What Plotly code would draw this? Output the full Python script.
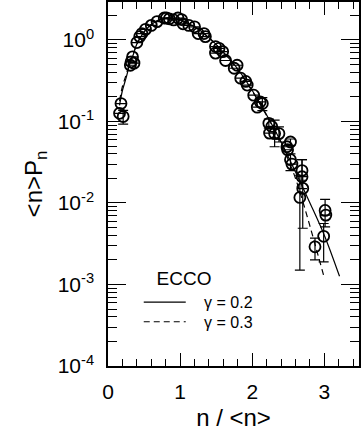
import plotly.graph_objects as go

# ---- data ----
pt_x = [0.16, 0.18, 0.21, 0.31, 0.32, 0.34, 0.36, 0.40, 0.44, 0.47, 0.52, 0.60, 0.68, 0.78,
        0.81, 0.85, 0.91, 0.97, 1.02, 1.04, 1.12, 1.20, 1.25, 1.33, 1.35, 1.49, 1.49, 1.54,
        1.59, 1.63, 1.75, 1.79, 1.84, 1.91, 1.93, 2.02, 2.07, 2.11, 2.14, 2.23, 2.24, 2.27,
        2.31, 2.37, 2.48, 2.49, 2.53, 2.53, 2.55, 2.66, 2.69, 2.69, 2.70, 2.87, 2.99, 3.01, 3.02]
pt_y = [0.126, 0.166, 0.115, 0.49, 0.54, 0.62, 0.52, 0.93, 1.10, 1.20, 1.35, 1.51, 1.68, 1.86,
        1.86, 1.82, 1.76, 1.86, 1.78, 1.58, 1.51, 1.45, 1.20, 1.20, 1.10, 0.83, 0.69, 0.79,
        0.72, 0.56, 0.45, 0.49, 0.34, 0.31, 0.28, 0.21, 0.15, 0.174, 0.166, 0.095, 0.072, 0.087,
        0.071, 0.071, 0.049, 0.045, 0.034, 0.056, 0.030, 0.0117, 0.025, 0.021, 0.0151, 0.0029, 0.0039, 0.0081, 0.0071]
err_plus = [0, 0, 0.022, 0, 0, 0, 0, 0, 0, 0, 0, 0, 0, 0,
            0, 0, 0, 0, 0, 0, 0, 0, 0, 0, 0, 0, 0, 0,
            0, 0, 0, 0, 0, 0, 0, 0, 0, 0, 0.03, 0.012, 0, 0,
            0.033, 0.015, 0, 0, 0.006, 0.005, 0, 0.0102, 0.009, 0.013, 0.006, 0.0008, 0.0017, 0.003, 0]
err_minus = [0, 0, 0.022, 0, 0, 0, 0, 0, 0, 0, 0, 0, 0, 0,
             0, 0, 0, 0, 0, 0, 0, 0, 0, 0, 0, 0, 0, 0,
             0, 0, 0, 0, 0, 0, 0, 0, 0, 0, 0.03, 0.012, 0, 0,
             0.022, 0.015, 0, 0, 0.009, 0.005, 0, 0.0102, 0.006, 0.006, 0.0102, 0.0009, 0.002, 0.003, 0]

solid_x = [0.16, 0.20, 0.25, 0.30, 0.35, 0.40, 0.50, 0.60, 0.70, 0.80, 0.90, 1.00, 1.20, 1.40,
           1.60, 1.80, 2.00, 2.20, 2.40, 2.60, 2.80, 3.00, 3.21]
solid_y = [0.158, 0.24, 0.34, 0.50, 0.66, 0.89, 1.26, 1.55, 1.74, 1.84, 1.84, 1.76, 1.45, 1.07,
           0.71, 0.44, 0.24, 0.12, 0.056, 0.024, 0.0100, 0.0040, 0.00126]

dash_x = [0.16, 0.20, 0.25, 0.30, 0.35, 0.40, 0.50, 0.60, 0.70, 0.80, 0.90, 1.00, 1.20, 1.40,
          1.60, 1.80, 2.00, 2.20, 2.40, 2.50, 2.60, 2.70, 2.80, 2.90, 3.00]
dash_y = [0.178, 0.27, 0.37, 0.52, 0.67, 0.89, 1.25, 1.55, 1.75, 1.86, 1.86, 1.77, 1.45, 1.06,
          0.70, 0.43, 0.235, 0.118, 0.055, 0.034, 0.020, 0.0105, 0.0052, 0.0025, 0.0012]

y_ticks = [1e-4, 1e-3, 1e-2, 1e-1, 1]
y_ticktext = ["10<sup>-4</sup>", "10<sup>-3</sup>", "10<sup>-2</sup>", "10<sup>-1</sup>", "10<sup>0</sup>"]
x_ticks = [0, 1, 2, 3]

FONT = "Liberation Sans"
NB = "\u00a0"

fig = go.Figure()
fig.add_trace(go.Scatter(
    x=pt_x, y=pt_y, mode="markers", showlegend=False,
    marker=dict(symbol="circle-open", size=11, color="black", line=dict(width=1.8, color="black")),
    error_y=dict(type="data", symmetric=False, array=err_plus, arrayminus=err_minus,
                 color="black", thickness=1.2, width=5),
))
fig.add_trace(go.Scatter(
    x=solid_x, y=solid_y, mode="lines", name=NB * 3 + "γ = 0.2", legend="legend",
    line=dict(color="black", width=1.2, shape="spline"),
))
fig.add_trace(go.Scatter(
    x=dash_x, y=dash_y, mode="lines", name=NB * 3 + "γ = 0.3", legend="legend2",
    line=dict(color="black", width=1.2, dash="6px,4px", shape="spline"),
))

leg_common = dict(xanchor="left", yanchor="top", bgcolor="rgba(0,0,0,0)",
                  font=dict(size=16, family=FONT), itemwidth=42)

fig.update_layout(
    width=361, height=431,
    margin=dict(l=108, r=0, t=2, b=65),
    paper_bgcolor="white", plot_bgcolor="white",
    font=dict(family=FONT, color="black"),
    legend=dict(x=0.1225, y=0.29,
                title=dict(text=NB * 3 + "ECCO", font=dict(size=19, family=FONT), side="top"),
                **leg_common),
    legend2=dict(x=0.1225, y=0.168, **leg_common),
    xaxis=dict(
        range=[0, 3.48], tickvals=x_ticks, ticks="inside", ticklen=13, tickwidth=1.3,
        tickcolor="black", showline=True, linecolor="black", linewidth=1.5, mirror="allticks",
        showgrid=False, zeroline=False, tickfont=dict(size=21, family=FONT),
        ticklabelstandoff=6,
        minor=dict(dtick=0.2, ticks="inside", ticklen=7, tickwidth=1.2, tickcolor="black", showgrid=False),
        title=dict(text="n / <n>", font=dict(size=24, family=FONT), standoff=8),
    ),
    yaxis=dict(
        type="log", range=[-4, 0.466], tickvals=y_ticks, ticktext=y_ticktext,
        ticks="inside", ticklen=18, tickwidth=1.3, tickcolor="black",
        showline=True, linecolor="black", linewidth=1.5, mirror="ticks",
        showgrid=False, zeroline=False, tickfont=dict(size=21, family=FONT),
        ticklabelstandoff=8,
        minor=dict(dtick="D1", ticks="inside", ticklen=9, tickwidth=1.2, tickcolor="black", showgrid=False),
        title=dict(text="<n>P<sub>n</sub>", font=dict(size=24, family=FONT), standoff=8),
    ),
)

fig.write_html("out.html")
